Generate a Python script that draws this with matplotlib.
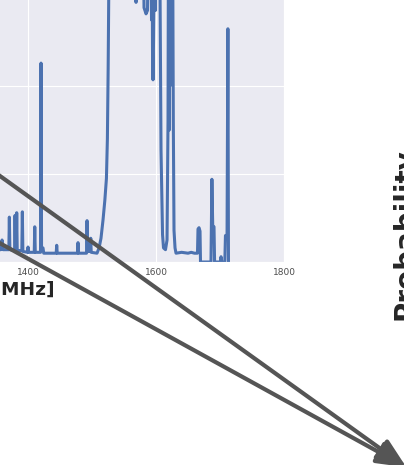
import matplotlib
matplotlib.use("Agg")
import matplotlib.pyplot as plt
import seaborn as sns
from matplotlib.patches import FancyArrowPatch

sns.set_style("darkgrid")
plt.rcParams["font.family"] = ["DejaVu Sans"]

# Spectrum samples: frequency [MHz] and normalised power
freq_mhz = [
    1340.0, 1357.5, 1359.4, 1361.0, 1370.0, 1370.8, 1371.6,
    1379.0, 1379.7, 1380.5, 1381.5, 1382.3, 1383.1,
    1390.3, 1391.1, 1391.9, 1399.3, 1400.0, 1400.7,
    1409.7, 1410.5, 1411.3, 1419.5, 1420.3, 1421.1, 1423.4, 1424.5,
    1444.0, 1444.8, 1445.6, 1477.3, 1478.1, 1478.9,
    1491.4, 1492.2, 1493.0, 1497.3, 1498.0, 1498.7,
    1507.8, 1511.0, 1514.0, 1517.2, 1520.0, 1522.5, 1524.0, 1525.2, 1526.3, 1527.5,
    1567.2, 1568.75, 1570.3,
    1579.7, 1581.25, 1584.4, 1586.7, 1588.3,
    1591.4, 1592.97, 1593.75, 1594.5, 1595.3, 1596.1, 1597.7, 1599.2, 1600.0,
    1605.5, 1607.8, 1610.2, 1611.7, 1614.8, 1617.2, 1618.75, 1619.5,
    1620.8, 1621.9, 1623.1, 1624.2, 1625.8, 1627.0, 1628.1, 1629.7, 1631.25,
    1640.0, 1650.0, 1655.0, 1660.0,
    1664.8, 1665.6, 1667.2, 1668.75, 1669.5,
    1685.9, 1687.3, 1688.6, 1690.6, 1691.5,
    1700.8, 1701.6, 1702.4,
    1707.5, 1708.5, 1711.0, 1712.3, 1713.2,
]
power = [
    0.14, 0.14, 0.25, 0.14, 0.14, 0.51, 0.14,
    0.13, 0.53, 0.14, 0.13, 0.56, 0.13,
    0.13, 0.57, 0.12, 0.11, 0.17, 0.11,
    0.11, 0.40, 0.11, 0.11, 2.26, 0.16, 0.16, 0.10,
    0.10, 0.19, 0.10, 0.10, 0.22, 0.10,
    0.10, 0.47, 0.12, 0.12, 0.27, 0.11,
    0.10, 0.16, 0.27, 0.48, 0.70, 0.95, 1.40, 2.20, 3.20, 4.00,
    4.00, 2.95, 4.00,
    4.00, 2.89, 2.82, 2.86, 4.00,
    4.00, 2.75, 4.00, 2.41, 2.07, 2.52, 4.00, 2.86, 4.00,
    4.00, 1.27, 0.31, 0.16, 0.14, 0.25, 1.61, 4.00,
    1.50, 4.00, 2.01, 4.00, 4.00, 1.61, 0.36, 0.16, 0.10,
    0.11, 0.10, 0.11, 0.10,
    0.10, 0.375, 0.39, 0.35, 0.0,
    0.0, 0.94, 0.41, 0.40, 0.0,
    0.0, 0.06, 0.0,
    0.0, 0.30, 0.31, 2.65, 0.0,
]

x_ticks = [800, 1000, 1200, 1400, 1600, 1800]
y_ticks = [0, 1, 2, 3]

fig = plt.figure(figsize=(4.04, 4.65), dpi=100)
ax = fig.add_axes([-0.881, 0.43656, 1.584, 0.6813])
ax.plot(freq_mhz, power, color="#4C72B0", lw=2.2)
ax.set_xlim(800, 1800)
ax.set_ylim(0, 3.6)
ax.set_xticks(x_ticks)
ax.set_yticks(y_ticks)
ax.tick_params(axis="x", labelsize=6.5, labelcolor="0.3", pad=4.3, length=0)
ax.set_xlabel("Frequency [MHz]", fontsize=13.3, fontweight="bold",
              color="0.15", ha="right")
ax.xaxis.set_label_coords(0.642, -0.06)

fig.text(0.968, 0.497, "Probability", rotation=90, fontsize=20,
         fontweight="bold", color="0.15", ha="left", va="center")

# connectors from the spectrum panel to the distribution panel
tip = (1.006, -0.005)
for start in [(-0.1485, 0.714), (-0.1485, 0.548)]:
    arrow = FancyArrowPatch(start, tip, transform=fig.transFigure,
                            arrowstyle="-|>,head_length=0.9,head_width=0.35",
                            mutation_scale=20, lw=3, color="#555555",
                            shrinkA=0, shrinkB=0, zorder=10)
    fig.add_artist(arrow)

fig.savefig("out.png", dpi=100)
